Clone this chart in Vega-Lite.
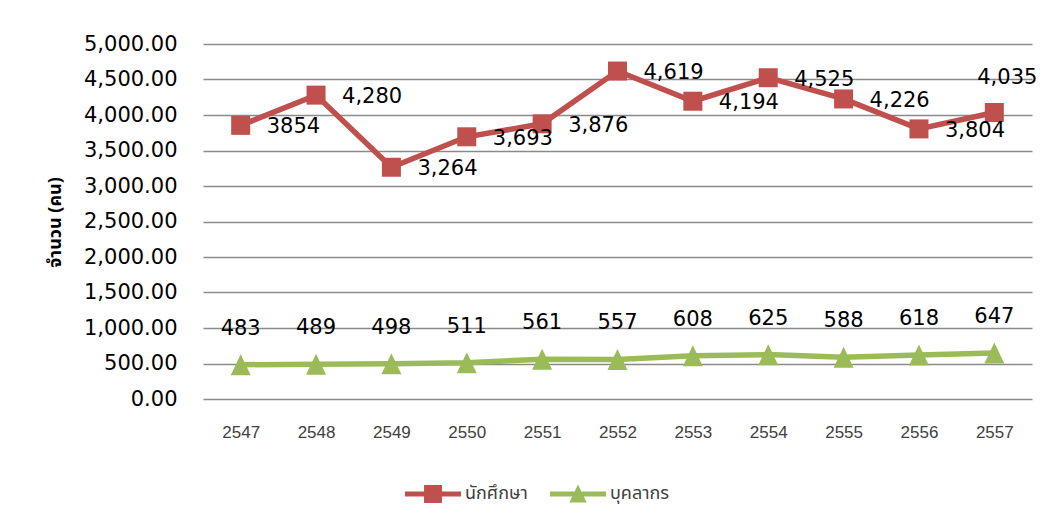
{
  "$schema": "https://vega.github.io/schema/vega-lite/v6.json",
  "autosize": {"type": "none"},
  "width": 829,
  "height": 355,
  "padding": {"left": 203, "top": 44, "right": 24, "bottom": 127},
  "background": "white",
  "config": {
    "view": {"stroke": null},
    "font": "DejaVu Sans"
  },
  "data": {
    "values": [
      {"year": "2547", "series": "นักศึกษา", "value": 3854, "label": "3854"},
      {"year": "2548", "series": "นักศึกษา", "value": 4280, "label": "4,280"},
      {"year": "2549", "series": "นักศึกษา", "value": 3264, "label": "3,264"},
      {"year": "2550", "series": "นักศึกษา", "value": 3693, "label": "3,693"},
      {"year": "2551", "series": "นักศึกษา", "value": 3876, "label": "3,876"},
      {"year": "2552", "series": "นักศึกษา", "value": 4619, "label": "4,619"},
      {"year": "2553", "series": "นักศึกษา", "value": 4194, "label": "4,194"},
      {"year": "2554", "series": "นักศึกษา", "value": 4525, "label": "4,525"},
      {"year": "2555", "series": "นักศึกษา", "value": 4226, "label": "4,226"},
      {"year": "2556", "series": "นักศึกษา", "value": 3804, "label": "3,804"},
      {"year": "2557", "series": "นักศึกษา", "value": 4035, "label": "4,035"},
      {"year": "2547", "series": "บุคลากร", "value": 483, "label": "483"},
      {"year": "2548", "series": "บุคลากร", "value": 489, "label": "489"},
      {"year": "2549", "series": "บุคลากร", "value": 498, "label": "498"},
      {"year": "2550", "series": "บุคลากร", "value": 511, "label": "511"},
      {"year": "2551", "series": "บุคลากร", "value": 561, "label": "561"},
      {"year": "2552", "series": "บุคลากร", "value": 557, "label": "557"},
      {"year": "2553", "series": "บุคลากร", "value": 608, "label": "608"},
      {"year": "2554", "series": "บุคลากร", "value": 625, "label": "625"},
      {"year": "2555", "series": "บุคลากร", "value": 588, "label": "588"},
      {"year": "2556", "series": "บุคลากร", "value": 618, "label": "618"},
      {"year": "2557", "series": "บุคลากร", "value": 647, "label": "647"}
    ]
  },
  "encoding": {
    "x": {
      "field": "year", "type": "ordinal",
      "scale": {"type": "point", "padding": 0.5},
      "axis": {
        "title": null, "labelAngle": 0, "domain": false, "ticks": false, "grid": false,
        "labelFont": "Liberation Sans", "labelFontSize": 17, "labelColor": "#404040",
        "labelPadding": 25
      }
    },
    "y": {
      "field": "value", "type": "quantitative",
      "scale": {"domain": [0, 5000], "nice": false},
      "axis": {
        "values": [0, 500, 1000, 1500, 2000, 2500, 3000, 3500, 4000, 4500, 5000],
        "format": ",.2f", "domain": false, "ticks": false,
        "grid": true, "gridColor": "#8a8a8a", "gridWidth": 1.5,
        "labelFont": "DejaVu Sans", "labelFontSize": 21, "labelColor": "#000000",
        "labelPadding": 26,
        "title": "จำนวน (คน)", "titleFontSize": 18, "titleFontWeight": "bold",
        "titleFont": "Noto Sans Thai, Noto Sans, sans-serif",
        "titleColor": "#000000", "titleAngle": -90, "titleX": -148, "titleY": 178,
        "titleAlign": "center", "titleBaseline": "middle"
      }
    },
    "color": {
      "field": "series", "type": "nominal",
      "scale": {"domain": ["นักศึกษา", "บุคลากร"], "range": ["#C0504D", "#9BBB59"]}
    }
  },
  "layer": [
    {
      "mark": {"type": "line", "strokeWidth": 5.5},
      "encoding": {
        "color": {
          "field": "series", "type": "nominal",
          "scale": {"domain": ["นักศึกษา", "บุคลากร"], "range": ["#C0504D", "#9BBB59"]},
          "legend": {
            "title": null, "orient": "none", "direction": "horizontal",
            "legendX": 202, "legendY": 422,
            "symbolSize": 3136, "labelOffset": 4, "columnPadding": 22,
            "labelFontSize": 18, "labelColor": "#404040",
            "labelFont": "Noto Sans Thai, Noto Sans, sans-serif",
            "encode": {
              "symbols": {
                "update": {
                  "shape": {"signal": "datum.value === 'นักศึกษา' ? 'M-1,-0.09H1V0.09H-1Z M-0.32,-0.32H0.32V0.32H-0.32Z' : 'M-1,-0.09H1V0.09H-1Z M0,-0.34L0.31,0.3H-0.31Z'"},
                  "fill": {"scale": "color", "field": "value"},
                  "stroke": {"value": "transparent"},
                  "strokeWidth": {"value": 0},
                  "opacity": {"value": 1},
                  "fillOpacity": {"value": 1}
                }
              }
            }
          }
        }
      }
    },
    {
      "transform": [{"filter": "datum.series === 'นักศึกษา'"}],
      "mark": {"type": "point", "shape": "square", "filled": true, "opacity": 1, "size": 361}
    },
    {
      "transform": [{"filter": "datum.series === 'บุคลากร'"}],
      "mark": {"type": "point", "shape": "M0,-1.05L1,1.05L-1,1.05Z", "filled": true, "opacity": 1, "size": 400}
    },
    {
      "transform": [{"filter": "datum.series === 'นักศึกษา' && datum.year !== '2557'"}],
      "mark": {"type": "text", "align": "left", "baseline": "middle", "dx": 26, "dy": 2, "fontSize": 21, "font": "DejaVu Sans", "color": "#000000"},
      "encoding": {"text": {"field": "label"}, "color": {"value": "#000000"}}
    },
    {
      "transform": [{"filter": "datum.series === 'นักศึกษา' && datum.year === '2557'"}],
      "mark": {"type": "text", "align": "center", "baseline": "middle", "dx": 13, "dy": -35, "fontSize": 21, "font": "DejaVu Sans", "color": "#000000"},
      "encoding": {"text": {"field": "label"}, "color": {"value": "#000000"}}
    },
    {
      "transform": [{"filter": "datum.series === 'บุคลากร'"}],
      "mark": {"type": "text", "align": "center", "baseline": "middle", "dy": -36, "fontSize": 21, "font": "DejaVu Sans", "color": "#000000"},
      "encoding": {"text": {"field": "label"}, "color": {"value": "#000000"}}
    }
  ]
}
